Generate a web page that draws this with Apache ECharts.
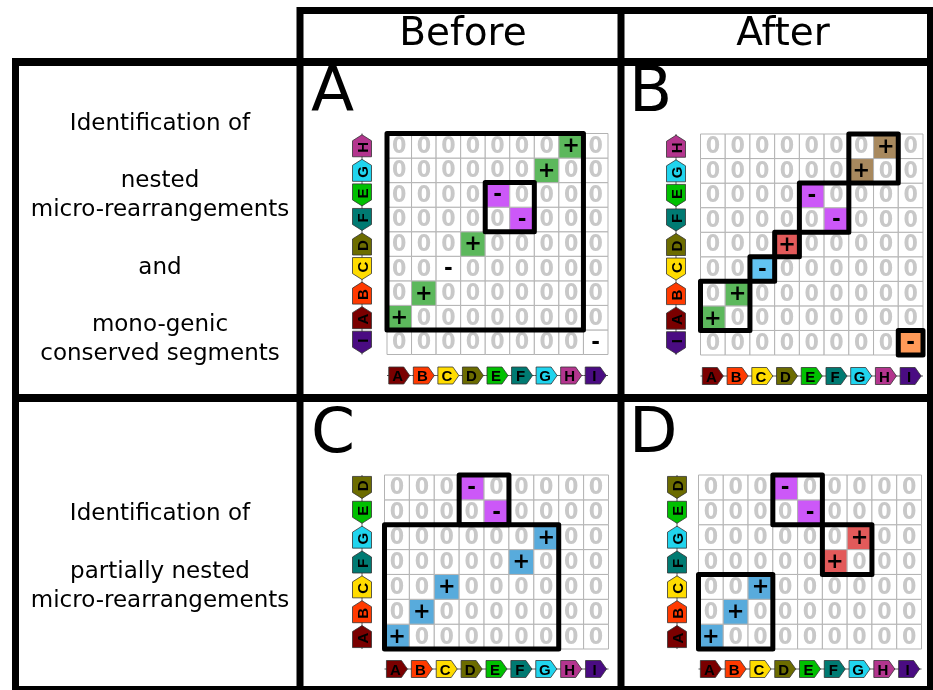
<!DOCTYPE html>
<html>
<head>
<meta charset="utf-8">
<script src="https://cdn.jsdelivr.net/npm/echarts@6/dist/echarts.min.js"></script>
<style>
  html, body { margin: 0; padding: 0; background: #ffffff; }
  #chart { width: 933px; height: 690px; }
</style>
</head>
<body>
<div id="chart"></div>
<script>
// Genes of the reference genome, left to right along each x axis
const genes = ['A', 'B', 'C', 'D', 'E', 'F', 'G', 'H', 'I'];

// Gene order of the compared genome, bottom to top along the y axis
const rowsTop = ['I', 'A', 'B', 'C', 'D', 'F', 'E', 'G', 'H'];
const rowsBottom = ['A', 'B', 'C', 'F', 'G', 'E', 'D'];

// Strand of each gene in the compared genome
const strandTop = { A: '+', B: '+', C: '-', D: '+', E: '-', F: '-', G: '+', H: '+', I: '-' };
const strandBottom = { A: '+', B: '+', C: '+', D: '-', E: '-', F: '+', G: '+' };

// Homologous pairs: [gene, relative orientation, segment class]
const matchesA = [['A', '+', 'green'], ['B', '+', 'green'], ['C', '-', 'none'], ['D', '+', 'green'],
  ['E', '-', 'violet'], ['F', '-', 'violet'], ['G', '+', 'green'], ['H', '+', 'green'], ['I', '-', 'none']];
const matchesB = [['A', '+', 'green'], ['B', '+', 'green'], ['C', '-', 'sky'], ['D', '+', 'red'],
  ['E', '-', 'violet'], ['F', '-', 'violet'], ['G', '+', 'brown'], ['H', '+', 'brown'], ['I', '-', 'orange']];
const matchesC = [['A', '+', 'blue'], ['B', '+', 'blue'], ['C', '+', 'blue'], ['F', '+', 'blue'],
  ['G', '+', 'blue'], ['E', '-', 'violet'], ['D', '-', 'violet']];
const matchesD = [['A', '+', 'blue'], ['B', '+', 'blue'], ['C', '+', 'blue'], ['F', '+', 'red'],
  ['G', '+', 'red'], ['E', '-', 'violet'], ['D', '-', 'violet']];

// Identified segments: [first x gene, last x gene, first y gene, last y gene]
const segmentsA = [['A', 'H', 'A', 'H'], ['E', 'F', 'F', 'E']];
const segmentsB = [['A', 'B', 'A', 'B'], ['C', 'C', 'C', 'C'], ['D', 'D', 'D', 'D'],
  ['E', 'F', 'F', 'E'], ['G', 'H', 'G', 'H'], ['I', 'I', 'I', 'I']];
const segmentsC = [['A', 'G', 'A', 'G'], ['D', 'E', 'E', 'D']];
const segmentsD = [['A', 'C', 'A', 'C'], ['F', 'G', 'F', 'G'], ['D', 'E', 'E', 'D']];

// ---- styling ----
const FONT = "'DejaVu Sans', 'Liberation Sans', sans-serif";
const ZERO_FONT = "'DejaVu Sans Condensed', 'DejaVu Sans', sans-serif";
const ICON_FONT = "'Liberation Sans', Arial, sans-serif";
const geneColor = {
  A: '#7a0000', B: '#ff3a00', C: '#ffdc00', D: '#6c6c00', E: '#00c000',
  F: '#007a72', G: '#20d4ee', H: '#b3358e', I: '#4a0c82'
};
const cellColor = {
  none: '#ffffff', green: '#5cb85c', violet: '#cc58f8', sky: '#62c3f2',
  red: '#e25a5a', brown: '#a8895e', orange: '#ff9a58', blue: '#58abdc'
};

const panels = [
  { rows: rowsTop, strand: strandTop, matches: matchesA, segments: segmentsA,
    grid: { left: 387, top: 133.5, width: 221, height: 221 }, yGap: 25, xGap: 21 },
  { rows: rowsTop, strand: strandTop, matches: matchesB, segments: segmentsB,
    grid: { left: 700.5, top: 134, width: 222.5, height: 221 }, yGap: 24.5, xGap: 21 },
  { rows: rowsBottom, strand: strandBottom, matches: matchesC, segments: segmentsC,
    grid: { left: 384.5, top: 475, width: 224, height: 174 }, yGap: 22.5, xGap: 20 },
  { rows: rowsBottom, strand: strandBottom, matches: matchesD, segments: segmentsD,
    grid: { left: 698.5, top: 475, width: 223, height: 174 }, yGap: 21.5, xGap: 20 }
];

// Build the full dot-plot matrix of a panel: homologous pairs carry a sign, the rest are 0
function buildCells(p) {
  const out = [];
  p.rows.forEach((rg, yi) => {
    genes.forEach((cg, xi) => {
      const m = cg === rg ? p.matches.find(d => d[0] === cg) : null;
      out.push({ x: xi, y: yi, label: m ? m[1] : '0', cls: m ? m[2] : 'none' });
    });
  });
  return out;
}

function cellRenderer(cells) {
  return function (params, api) {
    const c = cells[params.dataIndex];
    const p = api.coord([c.x, c.y]);
    const s = api.size([1, 1]);
    const zero = c.label === '0';
    return {
      type: 'group',
      children: [
        { type: 'rect',
          shape: { x: p[0] - s[0] / 2, y: p[1] - s[1] / 2, width: s[0], height: s[1] },
          style: { fill: cellColor[c.cls], stroke: '#b3b3b3', lineWidth: 1 } },
        { type: 'text',
          style: { x: p[0], y: p[1] + 1, text: c.label, align: 'center', verticalAlign: 'middle',
            fill: zero ? '#c8c8c8' : '#000000',
            font: zero ? 'bold 23px ' + ZERO_FONT : 'bold 21px ' + FONT } }
      ]
    };
  };
}

function segmentRenderer(boxes) {
  return function (params, api) {
    const b = boxes[params.dataIndex];
    const p0 = api.coord([b[0], b[1]]);
    const p1 = api.coord([b[2], b[3]]);
    const s = api.size([1, 1]);
    return {
      type: 'rect', z2: 10,
      shape: { x: p0[0] - s[0] / 2, y: p1[1] - s[1] / 2,
        width: p1[0] - p0[0] + s[0], height: p0[1] - p1[1] + s[1] },
      style: { fill: 'none', stroke: '#000000', lineWidth: 5, lineJoin: 'round' }
    };
  };
}

function xGeneRenderer(gap) {
  return function (params, api) {
    const g = genes[params.dataIndex];
    const p = api.coord([params.dataIndex, 0]);
    const s = api.size([1, 1]);
    const cx = p[0], cy = p[1] + s[1] / 2 + gap;
    const w = 21, h = 17, t = 6;
    return {
      type: 'group',
      children: [
        { type: 'line', shape: { x1: cx - s[0] / 2, y1: cy, x2: cx + s[0] / 2, y2: cy },
          style: { stroke: '#555555', lineWidth: 1 } },
        { type: 'polygon',
          shape: { points: [[cx - w / 2, cy - h / 2], [cx + w / 2 - t, cy - h / 2], [cx + w / 2, cy],
            [cx + w / 2 - t, cy + h / 2], [cx - w / 2, cy + h / 2]] },
          style: { fill: geneColor[g], stroke: '#333333', lineWidth: 0.8 } },
        { type: 'text',
          style: { x: cx - 1.5, y: cy + 1.5, text: g, align: 'center', verticalAlign: 'middle',
            fill: '#000000', font: 'bold 15px ' + ICON_FONT } }
      ]
    };
  };
}

function yGeneRenderer(rows, strand, gap) {
  return function (params, api) {
    const g = rows[params.dataIndex];
    const p = api.coord([0, params.dataIndex]);
    const s = api.size([1, 1]);
    const cx = p[0] - s[0] / 2 - gap, cy = p[1];
    const w = 19, h = 22, t = 6;
    const dir = strand[g] === '+' ? -1 : 1;   // arrow tip up for '+', down for '-'
    const tipY = cy + dir * h / 2, baseY = cy - dir * h / 2, shoulderY = tipY - dir * t;
    return {
      type: 'group',
      children: [
        { type: 'line', shape: { x1: cx, y1: cy - s[1] / 2, x2: cx, y2: cy + s[1] / 2 },
          style: { stroke: '#555555', lineWidth: 1 } },
        { type: 'polygon',
          shape: { points: [[cx - w / 2, baseY], [cx - w / 2, shoulderY], [cx, tipY],
            [cx + w / 2, shoulderY], [cx + w / 2, baseY]] },
          style: { fill: geneColor[g], stroke: '#333333', lineWidth: 0.8 } },
        { type: 'text', x: cx + 1.5, y: cy - dir * 1.5, rotation: Math.PI / 2,
          style: { x: 0, y: 0, text: g, align: 'center', verticalAlign: 'middle',
            fill: '#000000', font: 'bold 15px ' + ICON_FONT } }
      ]
    };
  };
}

const grid = [], xAxis = [], yAxis = [], series = [];
panels.forEach((p, i) => {
  grid.push(Object.assign({ containLabel: false }, p.grid));
  xAxis.push({ type: 'category', gridIndex: i, data: genes, show: false });
  yAxis.push({ type: 'category', gridIndex: i, data: p.rows, show: false });

  const cells = buildCells(p);
  series.push({ type: 'custom', xAxisIndex: i, yAxisIndex: i, silent: true, clip: false,
    renderItem: cellRenderer(cells), data: cells.map(c => [c.x, c.y]) });

  const boxes = p.segments.map(sg => {
    const xa = genes.indexOf(sg[0]), xb = genes.indexOf(sg[1]);
    const ya = p.rows.indexOf(sg[2]), yb = p.rows.indexOf(sg[3]);
    return [Math.min(xa, xb), Math.min(ya, yb), Math.max(xa, xb), Math.max(ya, yb)];
  });
  series.push({ type: 'custom', xAxisIndex: i, yAxisIndex: i, silent: true, clip: false, z: 5,
    renderItem: segmentRenderer(boxes), data: boxes.map(b => [b[0], b[1]]) });

  series.push({ type: 'custom', xAxisIndex: i, yAxisIndex: i, silent: true, clip: false,
    renderItem: xGeneRenderer(p.xGap), data: genes.map((g, k) => [k, 0]) });
  series.push({ type: 'custom', xAxisIndex: i, yAxisIndex: i, silent: true, clip: false,
    renderItem: yGeneRenderer(p.rows, p.strand, p.yGap), data: p.rows.map((g, k) => [0, k]) });
});

// Table frame, headers, panel letters and row descriptions
function bar(x1, y1, x2, y2, w) {
  return { type: 'line', silent: true, z: 100, shape: { x1, y1, x2, y2 },
    style: { stroke: '#000000', lineWidth: w } };
}
function label(x, y, text, size, align, lineHeight) {
  return { type: 'text', silent: true, z: 100, x, y,
    style: { x: 0, y: 0, text, align: align || 'center', verticalAlign: 'middle',
      font: size + 'px ' + FONT, fill: '#000000', lineHeight: lineHeight || size } };
}

const graphic = [
  bar(297, 10.5, 933, 10.5, 7),
  bar(300, 7, 300, 690, 7),
  bar(621, 7, 621, 690, 7),
  bar(930, 7, 930, 690, 6),
  bar(12, 62, 933, 62, 8),
  bar(15.5, 58, 15.5, 690, 7),
  bar(12, 398, 933, 398, 8),
  bar(12, 688, 933, 688, 4),
  label(463, 35, 'Before', 39),
  label(783, 35, 'After', 39),
  label(311, 95, 'A', 63, 'left'),
  label(629, 95, 'B', 63, 'left'),
  label(311, 436, 'C', 63, 'left'),
  label(629, 436, 'D', 63, 'left'),
  label(160, 239, 'Identification of\n\nnested\nmicro-rearrangements\n\nand\n\nmono-genic\nconserved segments', 23, 'center', 28.75),
  label(160, 557.5, 'Identification of\n\npartially nested\nmicro-rearrangements', 23, 'center', 29)
];

const chart = echarts.init(document.getElementById('chart'), null, { renderer: 'canvas' });
chart.setOption({
  animation: false,
  backgroundColor: '#ffffff',
  grid, xAxis, yAxis, series, graphic
});
</script>
</body>
</html>
